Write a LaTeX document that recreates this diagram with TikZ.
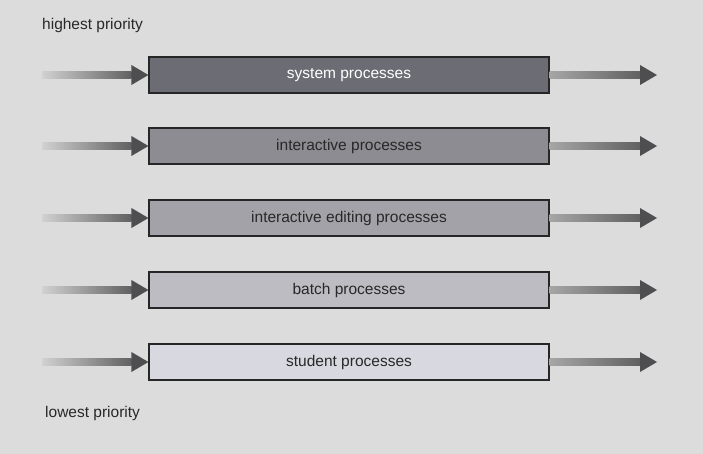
\documentclass[tikz,border=0pt]{standalone}
\usepackage{fontspec}
\setmainfont{Liberation Sans}
\usetikzlibrary{calc}
\definecolor{bg}{RGB}{220,220,220}
\definecolor{c1}{RGB}{108,108,116}
\definecolor{c2}{RGB}{140,140,146}
\definecolor{c3}{RGB}{162,162,168}
\definecolor{c4}{RGB}{188,188,194}
\definecolor{c5}{RGB}{216,216,224}
\definecolor{headc}{RGB}{78,78,80}
\definecolor{txt}{RGB}{40,40,40}
\tikzset{
  procbox/.style={draw=black!85, line width=1.2pt, minimum width=400pt, minimum height=36pt, inner sep=0pt, font=\fontsize{15.5}{18}\selectfont, text=txt},
  lbl/.style={font=\fontsize{15.5}{18}\selectfont, text=txt, anchor=west, inner sep=0pt},
  headfill/.style={fill=headc},
}
\newcommand{\inarrow}[2]{%
  \shade[left color=black!18, right color=black!62] ($(#1)+(0,3.5)$) rectangle ($(#2.west)+(-17,-3.5)$);
  \fill[headfill] (#2.west) -- ++(-17,10) -- ++(0,-20) -- cycle;}
\newcommand{\outarrow}[2]{%
  \shade[left color=black!35, right color=black!62] ($(#1.east)+(0,3.5)$) rectangle ($(#2)+(-17,-3.5)$);
  \fill[headfill] (#2) -- ++(-17,10) -- ++(0,-20) -- cycle;}
\begin{document}
\begin{tikzpicture}[x=1pt,y=-1pt]
\fill[bg] (0,0) rectangle (703,454);
\useasboundingbox (0,0) rectangle (703,454);
\node[lbl] (hi) at (42,25) {highest priority};
\node[lbl] (lo) at (45,413) {lowest priority};
\node[procbox, fill=c1, text=white] (b1) at (349,75) {system processes};
\node[procbox, fill=c2] (b2) at (349,146) {interactive processes};
\node[procbox, fill=c3] (b3) at (349,218) {interactive editing processes};
\node[procbox, fill=c4] (b4) at (349,290) {batch processes};
\node[procbox, fill=c5] (b5) at (349,362) {student processes};
\foreach \n/\y in {1/75,2/146,3/218,4/290,5/362}{
  \coordinate (s\n) at (42,\y);
  \coordinate (e\n) at (657,\y);
}
\inarrow{s1}{b1}\outarrow{b1}{e1}
\inarrow{s2}{b2}\outarrow{b2}{e2}
\inarrow{s3}{b3}\outarrow{b3}{e3}
\inarrow{s4}{b4}\outarrow{b4}{e4}
\inarrow{s5}{b5}\outarrow{b5}{e5}
\end{tikzpicture}
\end{document}
